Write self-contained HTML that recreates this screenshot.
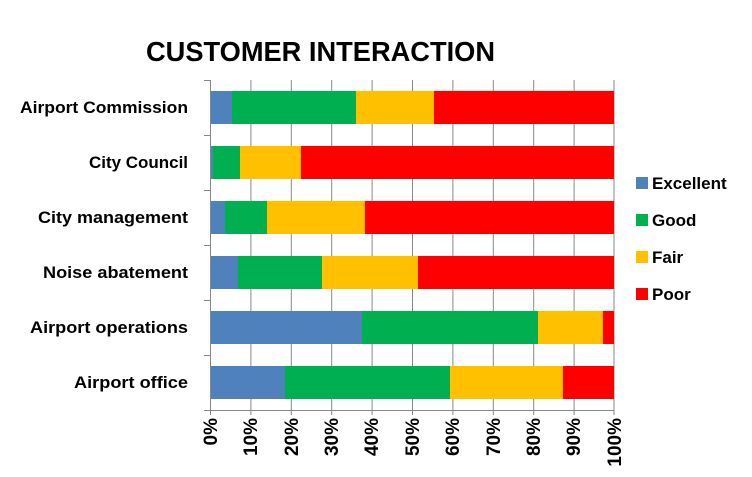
<!DOCTYPE html>
<html><head><style>body{margin:0;background:#fff}svg{display:block}</style></head><body>
<svg width="752" height="477" xmlns="http://www.w3.org/2000/svg" font-family="Liberation Sans, sans-serif" font-weight="bold">
<text x="146" y="61" font-size="28" textLength="349" lengthAdjust="spacingAndGlyphs">CUSTOMER INTERACTION</text>
<g stroke="#888" stroke-width="1">
<line x1="250.9" y1="80" x2="250.9" y2="415"/><line x1="291.3" y1="80" x2="291.3" y2="415"/><line x1="331.7" y1="80" x2="331.7" y2="415"/><line x1="372.1" y1="80" x2="372.1" y2="415"/><line x1="412.5" y1="80" x2="412.5" y2="415"/><line x1="452.9" y1="80" x2="452.9" y2="415"/><line x1="493.3" y1="80" x2="493.3" y2="415"/><line x1="533.7" y1="80" x2="533.7" y2="415"/><line x1="574.1" y1="80" x2="574.1" y2="415"/><line x1="614" y1="80" x2="614" y2="415"/>
<line x1="210.5" y1="80" x2="210.5" y2="415"/>
<line x1="204" y1="410.5" x2="614" y2="410.5"/>
<line x1="204" y1="80.5" x2="210" y2="80.5"/><line x1="204" y1="135.5" x2="210" y2="135.5"/><line x1="204" y1="190.5" x2="210" y2="190.5"/><line x1="204" y1="245.5" x2="210" y2="245.5"/><line x1="204" y1="300.5" x2="210" y2="300.5"/><line x1="204" y1="355.5" x2="210" y2="355.5"/>
</g>
<g>
<rect x="211" y="91" width="21" height="33" fill="#4f81bd"/><rect x="232" y="91" width="124" height="33" fill="#00b050"/><rect x="356" y="91" width="78" height="33" fill="#ffc000"/><rect x="434" y="91" width="180" height="33" fill="#ff0000"/>
<rect x="211" y="146" width="2" height="33" fill="#4f81bd"/><rect x="213" y="146" width="27" height="33" fill="#00b050"/><rect x="240" y="146" width="61" height="33" fill="#ffc000"/><rect x="301" y="146" width="313" height="33" fill="#ff0000"/>
<rect x="211" y="201" width="14" height="33" fill="#4f81bd"/><rect x="225" y="201" width="42" height="33" fill="#00b050"/><rect x="267" y="201" width="98" height="33" fill="#ffc000"/><rect x="365" y="201" width="249" height="33" fill="#ff0000"/>
<rect x="211" y="256" width="27" height="33" fill="#4f81bd"/><rect x="238" y="256" width="84" height="33" fill="#00b050"/><rect x="322" y="256" width="96" height="33" fill="#ffc000"/><rect x="418" y="256" width="196" height="33" fill="#ff0000"/>
<rect x="211" y="311" width="151" height="33" fill="#4f81bd"/><rect x="362" y="311" width="176" height="33" fill="#00b050"/><rect x="538" y="311" width="65" height="33" fill="#ffc000"/><rect x="603" y="311" width="11" height="33" fill="#ff0000"/>
<rect x="211" y="366" width="74" height="33" fill="#4f81bd"/><rect x="285" y="366" width="165" height="33" fill="#00b050"/><rect x="450" y="366" width="113" height="33" fill="#ffc000"/><rect x="563" y="366" width="51" height="33" fill="#ff0000"/>
</g>
<g font-size="17" text-anchor="end" fill="#000">
<text x="188" y="113" textLength="168" lengthAdjust="spacingAndGlyphs">Airport Commission</text>
<text x="188" y="168" textLength="99" lengthAdjust="spacingAndGlyphs">City Council</text>
<text x="188" y="223" textLength="150" lengthAdjust="spacingAndGlyphs">City management</text>
<text x="188" y="278" textLength="145" lengthAdjust="spacingAndGlyphs">Noise abatement</text>
<text x="188" y="333" textLength="158" lengthAdjust="spacingAndGlyphs">Airport operations</text>
<text x="188" y="388" textLength="114" lengthAdjust="spacingAndGlyphs">Airport office</text>
</g>
<g font-size="19" text-anchor="end">
<text transform="translate(217,418) rotate(-90)">0%</text>
<text transform="translate(257,418) rotate(-90)">10%</text>
<text transform="translate(298,418) rotate(-90)">20%</text>
<text transform="translate(338,418) rotate(-90)">30%</text>
<text transform="translate(378,418) rotate(-90)">40%</text>
<text transform="translate(419,418) rotate(-90)">50%</text>
<text transform="translate(459,418) rotate(-90)">60%</text>
<text transform="translate(500,418) rotate(-90)">70%</text>
<text transform="translate(540,418) rotate(-90)">80%</text>
<text transform="translate(580,418) rotate(-90)">90%</text>
<text transform="translate(621,418) rotate(-90)">100%</text>
</g>
<g font-size="17">
<rect x="636" y="177" width="12" height="12" fill="#4f81bd"/><text x="652" y="189">Excellent</text>
<rect x="636" y="214" width="12" height="12" fill="#00b050"/><text x="652" y="226">Good</text>
<rect x="636" y="251" width="12" height="12" fill="#ffc000"/><text x="652" y="263">Fair</text>
<rect x="636" y="288" width="12" height="12" fill="#ff0000"/><text x="652" y="300">Poor</text>
</g>
</svg>
</body></html>
